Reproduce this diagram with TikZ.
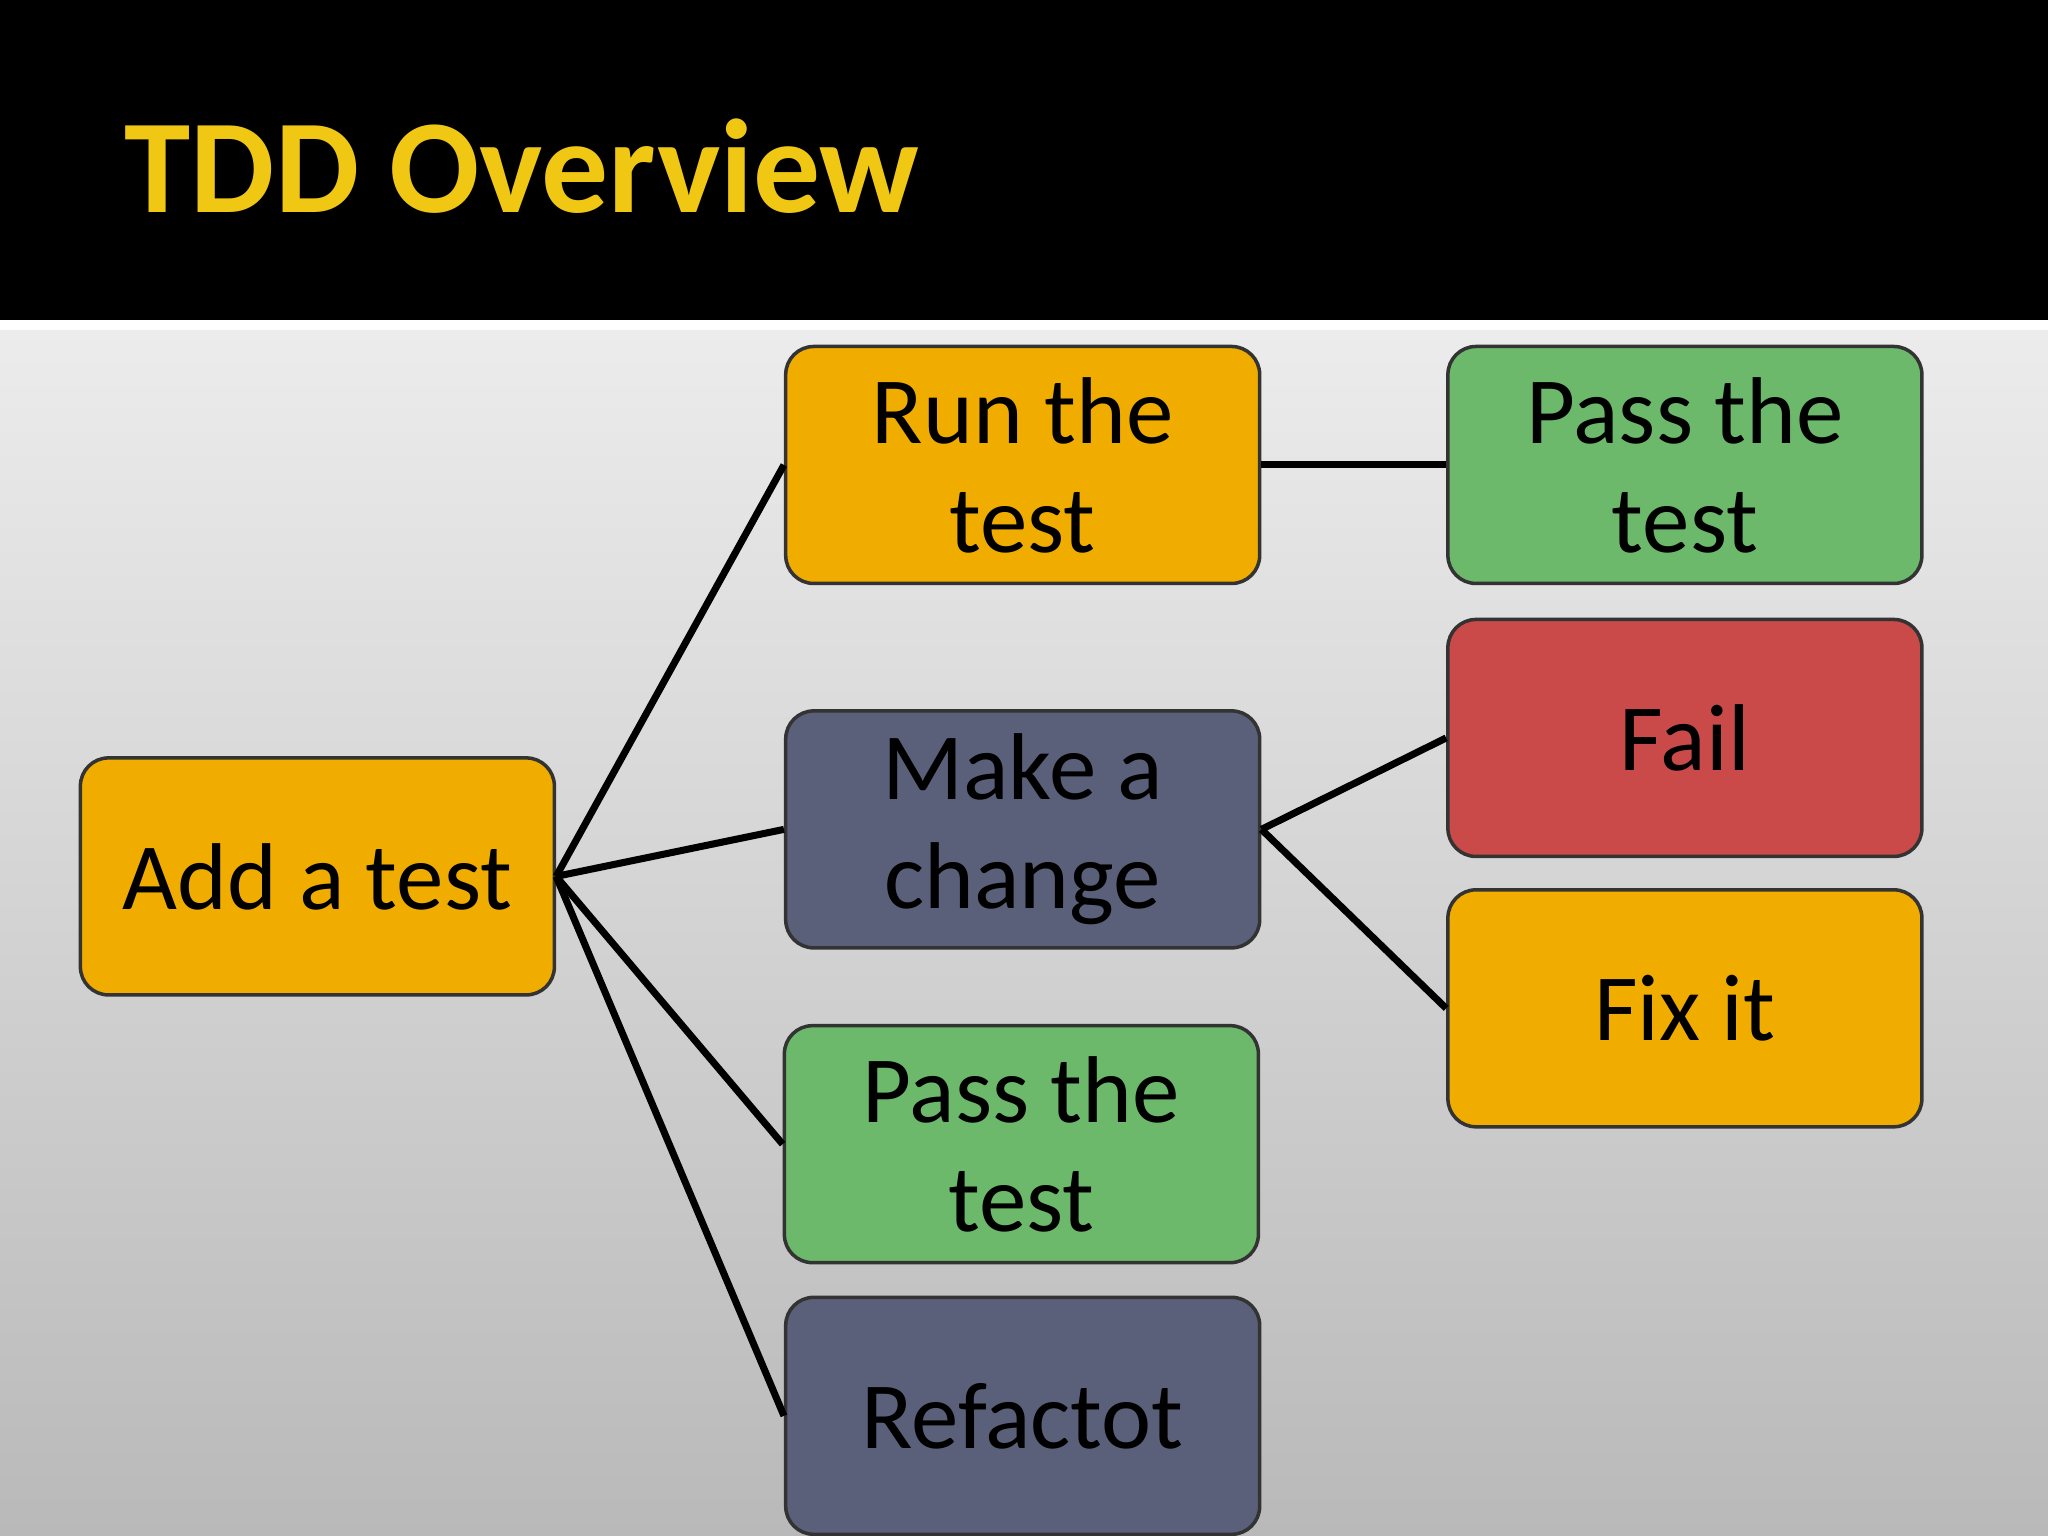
\documentclass[tikz,border=0pt]{standalone}
\usepackage{fontspec}
\setmainfont{Carlito}
\begin{document}
\begin{tikzpicture}[x=0.013061cm,y=-0.013061cm,
 box/.style={draw=black!80,line width=1pt,rounded corners=8pt,minimum width=4.74cm,minimum height=2.37cm,align=center,font=\fontsize{27}{31}\selectfont,text=black,inner sep=2pt},
 con/.style={line width=2pt,black}]
\useasboundingbox (0,0) rectangle (1568,1176);
\shade[top color=gray!15,bottom color=gray!55] (0,252) rectangle (1568,1176);
\fill[black] (0,0) rectangle (1568,245);
\fill[white] (0,245) rectangle (1568,253);
\node[anchor=base west,inner sep=0pt,text={rgb,255:red,240;green,200;blue,20},font=\bfseries\fontsize{38}{42}\selectfont] (title) at (95,163) {TDD Overview};
\definecolor{cor}{RGB}{240,173,0}
\definecolor{cgr}{RGB}{108,185,108}
\definecolor{cre}{RGB}{201,74,72}
\definecolor{csl}{RGB}{90,96,121}
\node[box,fill=cor] (add) at (243,671) {Add a test};
\node[box,fill=cor] (run) at (783,356) {Run the\\test};
\node[box,fill=cgr] (pass1) at (1290,356) {Pass the\\test};
\node[box,fill=csl] (make) at (783,635) {Make a\\change};
\node[box,fill=cre] (fail) at (1290,565) {Fail};
\node[box,fill=cor] (fix) at (1290,772) {Fix it};
\node[box,fill=cgr] (pass2) at (782,876) {Pass the\\test};
\node[box,fill=csl] (ref) at (783,1084) {Refactot};
\foreach \t in {run,make,pass2,ref} \draw[con] (add.east) -- (\t.west);
\draw[con] (run.east) -- (pass1.west);
\draw[con] (make.east) -- (fail.west);
\draw[con] (make.east) -- (fix.west);
\end{tikzpicture}
\end{document}
